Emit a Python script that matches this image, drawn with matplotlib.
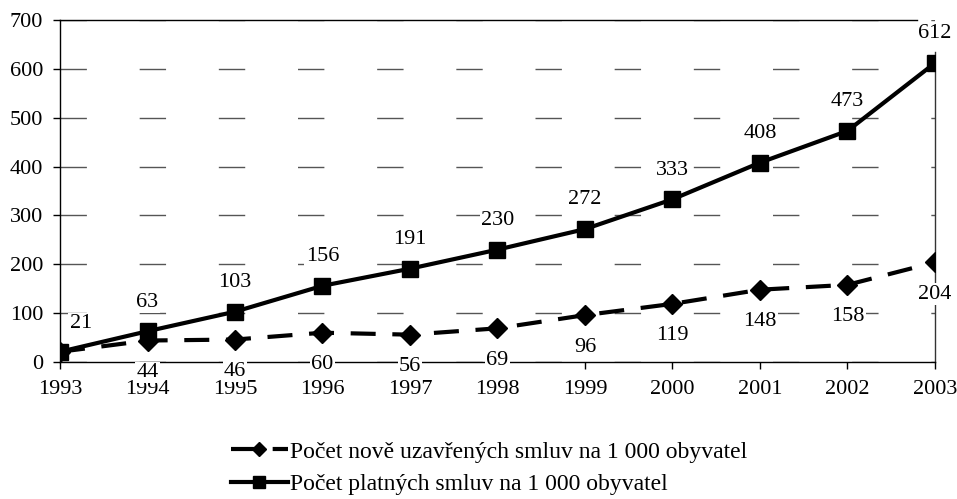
import matplotlib
matplotlib.use('Agg')
from matplotlib import pyplot as plt

# data
years = ['1993', '1994', '1995', '1996', '1997', '1998', '1999', '2000', '2001', '2002', '2003']
nove = [21, 44, 46, 60, 56, 69, 96, 119, 148, 158, 204]
platne = [21, 63, 103, 156, 191, 230, 272, 333, 408, 473, 612]
label_nove = 'Počet nově uzavřených smluv na 1 000 obyvatel'
label_platne = 'Počet platných smluv na 1 000 obyvatel'

plt.rcParams['font.family'] = ['Liberation Serif', 'DejaVu Serif']
plt.rcParams['font.size'] = 16

fig = plt.figure(figsize=(9.57, 4.99), dpi=100)
ax = fig.add_axes([0.0627, 0.2745, 0.977 - 0.0627, 0.96 - 0.2745])

x = list(range(len(years)))
ax.plot(x, nove, color='black', lw=3, linestyle=(0, (6, 4)), marker='D', ms=10,
        label=label_nove, zorder=4)
ax.plot(x, platne, color='black', lw=3, marker='s', ms=12,
        label=label_platne, zorder=5)

box = dict(facecolor='white', edgecolor='none', pad=1)
for i, v in enumerate(platne):
    if i == 0:
        ax.annotate(str(v), (i, v), xytext=(15, 20), textcoords='offset points',
                    ha='center', va='center', bbox=box, zorder=6)
    else:
        ax.annotate(str(v), (i, v), xytext=(0, 21), textcoords='offset points',
                    ha='center', va='center', bbox=box, zorder=6)
for i, v in enumerate(nove):
    if i == 0:
        continue
    ax.annotate(str(v), (i, v), xytext=(0, -23), textcoords='offset points',
                ha='center', va='center', bbox=box, zorder=6)

ax.set_xlim(0, len(years) - 1)
ax.set_ylim(0, 700)
ax.set_xticks(x)
ax.set_xticklabels(years)
ax.set_yticks(range(0, 701, 100))
ax.tick_params(axis='x', direction='out', length=5, width=1, pad=8)
ax.tick_params(axis='y', direction='out', length=5, width=1, pad=7)
ax.yaxis.grid(True, color='#555555', lw=1, linestyle=(0, (19, 38)))
ax.set_axisbelow(True)
for s in ax.spines.values():
    s.set_linewidth(1)
    s.set_color('black')
ax.spines['top'].set_visible(False)
ax.spines['right'].set_visible(False)
# frame pieces as in the original (top stops short, right starts below the top)
ax.plot([0, 0.979], [1, 1], transform=ax.transAxes, color='black', lw=1,
        clip_on=False, zorder=1)
ax.plot([1, 1], [0, 0.905], transform=ax.transAxes, color='#333333', lw=1,
        clip_on=False, zorder=1)

fig.legend(loc='center', bbox_to_anchor=(0.511, 0.062), frameon=False,
           handlelength=2.4, handletextpad=0.1, labelspacing=0.45, fontsize=17,
           markerscale=0.7)

fig.savefig('out.png', dpi=100)
